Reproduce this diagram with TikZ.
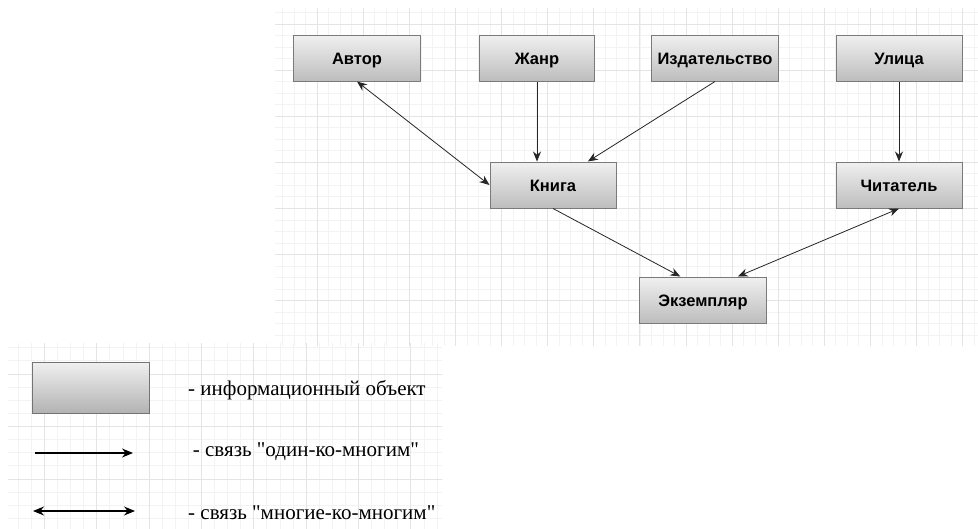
\documentclass[tikz,border=0pt]{standalone}
\usepackage{fontspec}
\setmainfont{Liberation Serif}[Ligatures=TeXOff]
\setsansfont{Liberation Sans}
\usetikzlibrary{arrows.meta,calc}
\definecolor{gridmajor}{HTML}{E4E4E4}
\definecolor{gridminor}{HTML}{F3F3F3}
\definecolor{boxborder}{HTML}{7A7A7A}
\definecolor{boxtop}{HTML}{F0F0F0}
\definecolor{boxbottom}{HTML}{BDBDBD}
\tikzset{
  entity/.style={rectangle, draw=boxborder, line width=1pt, top color=boxtop, bottom color=boxbottom,
    minimum height=46pt, inner sep=0pt, text height=13pt, text depth=0pt,
    font=\sffamily\bfseries\fontsize{16.5}{19}\selectfont},
  conn/.style={line width=0.8pt, draw=black!85, -{Stealth[length=10pt,width=8pt]}},
  biconn/.style={line width=0.8pt, draw=black!85, {Stealth[length=10pt,width=8pt]}-{Stealth[length=10pt,width=8pt]}},
  legarrow/.style={line width=1.4pt, -{Stealth[length=11pt,width=9pt]}},
  legbiarrow/.style={line width=1.4pt, {Stealth[length=11pt,width=9pt]}-{Stealth[length=11pt,width=9pt]}},
  legtext/.style={anchor=west, inner sep=0pt, font=\fontsize{21}{24}\selectfont},
  minorline/.style={draw=gridminor, line width=0.8pt},
  majorline/.style={draw=gridmajor, line width=1pt}
}
\begin{document}
\begin{tikzpicture}[x=1pt,y=-1pt]
\useasboundingbox (0,0) rectangle (978,528);
\fill[white] (0,0) rectangle (978,528);
% top grid
\begin{scope}
\clip (275,8) rectangle (978,345);
\foreach \i in {0,...,62} {
  \draw[minorline] ({271.1+11.525*\i},0) -- ({271.1+11.525*\i},350);
}
\foreach \i in {0,...,33} {
  \draw[minorline] (270,{-22.1+11.525*\i}) -- (980,{-22.1+11.525*\i});
}
\foreach \i in {0,...,15} {
  \draw[majorline] ({271.1+46.1*\i},0) -- ({271.1+46.1*\i},350);
}
\foreach \i in {0,...,8} {
  \draw[majorline] (270,{-22.1+46.1*\i}) -- (980,{-22.1+46.1*\i});
}
\end{scope}
% legend grid
\begin{scope}
\clip (8,343) rectangle (442,528);
\foreach \i in {0,...,36} {
  \draw[minorline] ({-8+13.09*\i},340) -- ({-8+13.09*\i},530);
}
\foreach \i in {0,...,16} {
  \draw[minorline] (0,{321.5+13.125*\i}) -- (450,{321.5+13.125*\i});
}
\foreach \i in {0,...,9} {
  \draw[majorline] ({-8+52.35*\i},340) -- ({-8+52.35*\i},530);
}
\foreach \i in {0,...,4} {
  \draw[majorline] (0,{321.5+52.5*\i}) -- (450,{321.5+52.5*\i});
}
\end{scope}
% entities
\node[entity, minimum width=127pt] (avtor) at (357,58) {Автор};
\node[entity, minimum width=115pt] (zhanr) at (537,58) {Жанр};
\node[entity, minimum width=127pt] (izd) at (715,58) {Издательство};
\node[entity, minimum width=126pt] (ulica) at (899,58) {Улица};
\node[entity, minimum width=126pt] (kniga) at (553,185) {Книга};
\node[entity, minimum width=126pt] (chit) at (899,185) {Читатель};
\node[entity, minimum width=127pt] (ekz) at (703,300) {Экземпляр};
% connectors
\draw[biconn] (avtor.south) -- (kniga.west);
\draw[conn] (zhanr.south) -- (zhanr.south |- kniga.north);
\draw[conn] (izd.south) -- (kniga.34);
\draw[conn] (ulica.south) -- (chit.north);
\draw[conn] (kniga.south) -- (ekz.134);
\draw[biconn] (chit.south) -- (ekz.34);
% legend
\node[entity, minimum width=117pt, minimum height=51pt, draw=black!55, bottom color=black!30] (legbox) at (90.5,387.5) {};
\node[legtext] (legt1) at (188,390) {- информационный объект};
\coordinate (l1a) at (35,453);
\coordinate (l1b) at (133,453);
\draw[legarrow] (l1a) -- (l1b);
\node[legtext] (legt2) at (192.7,451.7) {- связь "один-ко-многим"};
\coordinate (l2a) at (33,511);
\coordinate (l2b) at (135,511);
\draw[legbiarrow] (l2a) -- (l2b);
\node[legtext] (legt3) at (188,513) {- связь "многие-ко-многим"};
\end{tikzpicture}
\end{document}
